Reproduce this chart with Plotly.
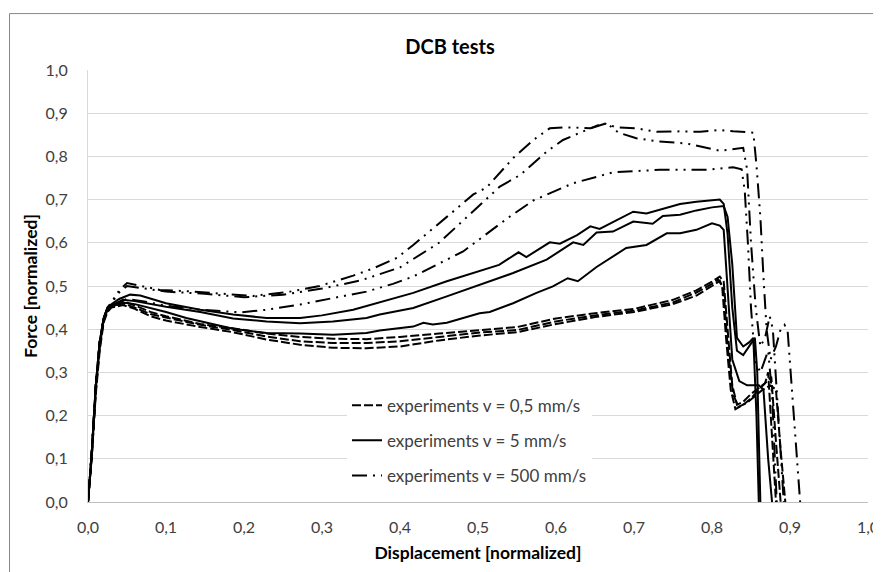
import plotly.graph_objects as go

# ---------------- data ----------------
# v = 0.5 mm/s  (three experiments, dashed)
slow_a_x = [0, 0.005, 0.01, 0.015, 0.02, 0.025, 0.03, 0.045, 0.06, 0.08, 0.1, 0.144, 0.186, 0.229, 0.272, 0.314, 0.357, 0.4, 0.45, 0.5, 0.55, 0.6, 0.65, 0.7, 0.75, 0.78, 0.8, 0.81, 0.815, 0.82, 0.826, 0.832, 0.84, 0.85, 0.86, 0.868, 0.872, 0.877, 0.882]
slow_a_y = [0, 0.12, 0.27, 0.37, 0.425, 0.447, 0.455, 0.465, 0.455, 0.44, 0.43, 0.412, 0.402, 0.39, 0.382, 0.378, 0.377, 0.382, 0.39, 0.397, 0.405, 0.425, 0.437, 0.447, 0.468, 0.49, 0.51, 0.522, 0.51, 0.40, 0.27, 0.225, 0.232, 0.25, 0.265, 0.275, 0.30, 0.15, 0]
slow_b_x = [0, 0.005, 0.01, 0.015, 0.02, 0.025, 0.03, 0.045, 0.06, 0.08, 0.1, 0.144, 0.186, 0.229, 0.272, 0.314, 0.357, 0.4, 0.45, 0.5, 0.55, 0.6, 0.65, 0.7, 0.75, 0.78, 0.8, 0.808, 0.813, 0.818, 0.824, 0.83, 0.84, 0.85, 0.86, 0.87, 0.876, 0.882, 0.888]
slow_b_y = [0, 0.11, 0.26, 0.36, 0.42, 0.445, 0.452, 0.46, 0.45, 0.435, 0.427, 0.41, 0.398, 0.383, 0.372, 0.368, 0.368, 0.372, 0.382, 0.392, 0.398, 0.418, 0.432, 0.443, 0.462, 0.485, 0.505, 0.515, 0.50, 0.38, 0.26, 0.215, 0.225, 0.24, 0.26, 0.28, 0.29, 0.14, 0]
slow_c_x = [0, 0.005, 0.01, 0.015, 0.02, 0.025, 0.03, 0.045, 0.06, 0.08, 0.1, 0.144, 0.186, 0.229, 0.272, 0.314, 0.357, 0.4, 0.45, 0.5, 0.55, 0.6, 0.65, 0.7, 0.75, 0.78, 0.8, 0.81, 0.815, 0.82, 0.827, 0.834, 0.845, 0.855, 0.865, 0.875, 0.882, 0.888, 0.894]
slow_c_y = [0, 0.11, 0.25, 0.35, 0.415, 0.44, 0.45, 0.456, 0.447, 0.43, 0.42, 0.405, 0.393, 0.376, 0.364, 0.357, 0.356, 0.36, 0.374, 0.385, 0.393, 0.412, 0.428, 0.44, 0.458, 0.478, 0.5, 0.512, 0.49, 0.36, 0.25, 0.22, 0.23, 0.245, 0.26, 0.27, 0.26, 0.12, 0]

# v = 5 mm/s  (three experiments, solid)
mid_a_x = [0, 0.005, 0.01, 0.015, 0.02, 0.025, 0.03, 0.04, 0.054, 0.067, 0.1, 0.144, 0.186, 0.229, 0.272, 0.3, 0.34, 0.374, 0.417, 0.46, 0.502, 0.527, 0.552, 0.562, 0.592, 0.605, 0.627, 0.644, 0.656, 0.699, 0.716, 0.759, 0.78, 0.81, 0.815, 0.82, 0.826, 0.832, 0.84, 0.848, 0.855, 0.858, 0.862]
mid_a_y = [0, 0.12, 0.27, 0.37, 0.425, 0.448, 0.458, 0.47, 0.48, 0.478, 0.46, 0.445, 0.434, 0.426, 0.426, 0.432, 0.445, 0.462, 0.484, 0.511, 0.534, 0.549, 0.578, 0.567, 0.601, 0.598, 0.618, 0.638, 0.632, 0.672, 0.668, 0.69, 0.695, 0.70, 0.69, 0.62, 0.45, 0.35, 0.34, 0.36, 0.38, 0.30, 0]
mid_b_x = [0, 0.005, 0.01, 0.015, 0.02, 0.025, 0.03, 0.045, 0.06, 0.1, 0.144, 0.186, 0.229, 0.272, 0.314, 0.357, 0.374, 0.417, 0.46, 0.502, 0.545, 0.588, 0.622, 0.635, 0.652, 0.673, 0.699, 0.724, 0.737, 0.759, 0.78, 0.8, 0.815, 0.82, 0.826, 0.832, 0.84, 0.848, 0.853, 0.857, 0.86]
mid_b_y = [0, 0.12, 0.27, 0.37, 0.425, 0.447, 0.455, 0.468, 0.465, 0.452, 0.44, 0.425, 0.418, 0.414, 0.418, 0.426, 0.434, 0.449, 0.476, 0.503, 0.53, 0.561, 0.601, 0.595, 0.624, 0.626, 0.649, 0.644, 0.662, 0.665, 0.675, 0.682, 0.685, 0.66, 0.55, 0.38, 0.36, 0.37, 0.38, 0.2, 0]
mid_c_x = [0, 0.005, 0.01, 0.015, 0.02, 0.025, 0.03, 0.045, 0.06, 0.1, 0.126, 0.144, 0.186, 0.229, 0.272, 0.314, 0.357, 0.374, 0.417, 0.43, 0.442, 0.46, 0.502, 0.515, 0.545, 0.575, 0.596, 0.615, 0.628, 0.652, 0.673, 0.69, 0.716, 0.742, 0.759, 0.78, 0.8, 0.81, 0.815, 0.82, 0.826, 0.835, 0.845, 0.86, 0.866, 0.872, 0.877]
mid_c_y = [0, 0.11, 0.26, 0.36, 0.42, 0.445, 0.452, 0.462, 0.458, 0.44, 0.426, 0.418, 0.401, 0.391, 0.39, 0.387, 0.391, 0.397, 0.406, 0.415, 0.411, 0.415, 0.437, 0.44, 0.46, 0.484, 0.499, 0.518, 0.511, 0.544, 0.568, 0.588, 0.595, 0.622, 0.622, 0.63, 0.645, 0.64, 0.63, 0.5, 0.33, 0.28, 0.27, 0.27, 0.26, 0.1, 0]

# v = 500 mm/s  (three experiments, long dash - dot - dot)
fast_a_x = [0, 0.005, 0.01, 0.015, 0.02, 0.025, 0.03, 0.04, 0.05, 0.07, 0.092, 0.127, 0.161, 0.212, 0.259, 0.297, 0.34, 0.366, 0.396, 0.417, 0.46, 0.494, 0.511, 0.545, 0.571, 0.592, 0.609, 0.622, 0.644, 0.661, 0.678, 0.703, 0.729, 0.759, 0.785, 0.81, 0.827, 0.853, 0.857, 0.862, 0.866, 0.87, 0.875, 0.882, 0.888, 0.893, 0.897, 0.905, 0.913]
fast_a_y = [0, 0.12, 0.27, 0.37, 0.425, 0.45, 0.462, 0.49, 0.507, 0.5, 0.491, 0.488, 0.484, 0.477, 0.487, 0.5, 0.524, 0.541, 0.565, 0.595, 0.66, 0.712, 0.728, 0.796, 0.838, 0.865, 0.867, 0.867, 0.865, 0.877, 0.867, 0.865, 0.857, 0.858, 0.857, 0.861, 0.858, 0.855, 0.78, 0.66, 0.52, 0.40, 0.33, 0.36, 0.40, 0.41, 0.395, 0.2, 0]
fast_b_x = [0, 0.005, 0.01, 0.015, 0.02, 0.025, 0.03, 0.04, 0.05, 0.07, 0.1, 0.15, 0.2, 0.25, 0.3, 0.35, 0.4, 0.45, 0.503, 0.528, 0.554, 0.588, 0.609, 0.644, 0.665, 0.68, 0.703, 0.73, 0.767, 0.81, 0.84, 0.845, 0.85, 0.856, 0.862, 0.868, 0.874, 0.878, 0.885, 0.892]
fast_b_y = [0, 0.12, 0.27, 0.37, 0.425, 0.45, 0.46, 0.485, 0.5, 0.495, 0.487, 0.482, 0.474, 0.48, 0.494, 0.513, 0.543, 0.6, 0.688, 0.73, 0.757, 0.811, 0.838, 0.865, 0.877, 0.855, 0.842, 0.835, 0.83, 0.813, 0.82, 0.77, 0.6, 0.45, 0.36, 0.38, 0.43, 0.40, 0.2, 0]
fast_c_x = [0, 0.005, 0.01, 0.015, 0.02, 0.025, 0.03, 0.05, 0.07, 0.101, 0.144, 0.195, 0.229, 0.272, 0.314, 0.357, 0.391, 0.417, 0.481, 0.541, 0.571, 0.622, 0.673, 0.733, 0.793, 0.827, 0.838, 0.842, 0.846, 0.85, 0.855, 0.862, 0.868, 0.872, 0.877, 0.883]
fast_c_y = [0, 0.12, 0.27, 0.37, 0.425, 0.447, 0.455, 0.47, 0.465, 0.454, 0.445, 0.439, 0.445, 0.457, 0.472, 0.487, 0.505, 0.522, 0.58, 0.661, 0.698, 0.738, 0.763, 0.769, 0.769, 0.775, 0.77, 0.72, 0.6, 0.45, 0.33, 0.30, 0.33, 0.35, 0.25, 0]

legend_labels = ["experiments v = 0,5 mm/s", "experiments v = 5 mm/s", "experiments v = 500 mm/s"]
x_ticks = [0.0, 0.1, 0.2, 0.3, 0.4, 0.5, 0.6, 0.7, 0.8, 0.9, 1.0]
y_ticks = [0.0, 0.1, 0.2, 0.3, 0.4, 0.5, 0.6, 0.7, 0.8, 0.9, 1.0]

# ---------------- figure ----------------
FONT = "Lato, 'Open Sans', sans-serif"
dash_styles = ["9px,3px", "solid", "15px,6px,2px,6px,2px,6px"]

groups = [
    [(slow_a_x, slow_a_y), (slow_b_x, slow_b_y), (slow_c_x, slow_c_y)],
    [(mid_a_x, mid_a_y), (mid_b_x, mid_b_y), (mid_c_x, mid_c_y)],
    [(fast_a_x, fast_a_y), (fast_b_x, fast_b_y), (fast_c_x, fast_c_y)],
]

fig = go.Figure()
for gi, curves in enumerate(groups):
    for ci, (xs, ys) in enumerate(curves):
        fig.add_trace(go.Scatter(
            x=xs, y=ys, mode="lines",
            name=legend_labels[gi],
            legendgroup=f"g{gi}",
            showlegend=(ci == 0),
            line=dict(color="black", width=2, dash=dash_styles[gi]),
            hoverinfo="skip",
        ))

# the page body has an 8px margin, so the figure starts at (8, 8) in the window
OFF = 8
W, H = 881 - OFF, 572 - OFF
ml, mr, mt, mb = 88 - OFF, 13, 70 - OFF, 69.5
pw = W - ml - mr
ph = H - mt - mb

def px_to_paper_x(p):
    return (p - OFF - ml) / pw

def py_to_paper_y(p):
    return (H - mb - (p - OFF)) / ph

fig.update_layout(
    width=W, height=H,
    margin=dict(l=ml, r=mr, t=mt, b=mb, autoexpand=False),
    paper_bgcolor="white", plot_bgcolor="white",
    separators=", ",
    font=dict(family=FONT, size=16, color="#404040"),
    title=dict(text="<b>DCB tests</b>", x=(450 - OFF) / W, xanchor="center",
               y=1 - (47 - OFF) / H, yanchor="middle",
               font=dict(family=FONT, size=20, color="black")),
    xaxis=dict(range=[0, 1], tickvals=x_ticks, tickformat=".1f",
               showgrid=False, zeroline=False,
               showline=True, linecolor="#bfbfbf", linewidth=1,
               ticks="", ticklabelstandoff=11,
               tickfont=dict(family=FONT, size=16, color="#404040"),
               title=dict(text="<b>Displacement [normalized]</b>", standoff=11,
                          font=dict(family=FONT, size=17.5, color="black"))),
    yaxis=dict(range=[0, 1], tickvals=y_ticks, tickformat=".1f",
               showgrid=True, gridcolor="#d9d9d9", gridwidth=1,
               zeroline=False,
               showline=True, linecolor="#d9d9d9", linewidth=1,
               ticks="", ticklabelstandoff=16,
               tickfont=dict(family=FONT, size=16, color="#404040"),
               title=dict(text="<b>Force [normalized]</b>", standoff=3,
                          font=dict(family=FONT, size=17.5, color="black"))),
    legend=dict(x=px_to_paper_x(347), y=py_to_paper_y(388),
                xanchor="left", yanchor="top",
                bgcolor="white", borderwidth=0,
                traceorder="grouped", tracegroupgap=10,
                font=dict(family=FONT, size=17, color="#404040")),
    showlegend=True,
    shapes=[dict(type="rect", xref="paper", yref="paper",
                 x0=px_to_paper_x(9.5), x1=px_to_paper_x(881 + 20),
                 y0=py_to_paper_y(572 + 20), y1=py_to_paper_y(13.5),
                 line=dict(color="#888888", width=1),
                 fillcolor="rgba(0,0,0,0)", layer="below")],
)

fig.write_html("out.html")
